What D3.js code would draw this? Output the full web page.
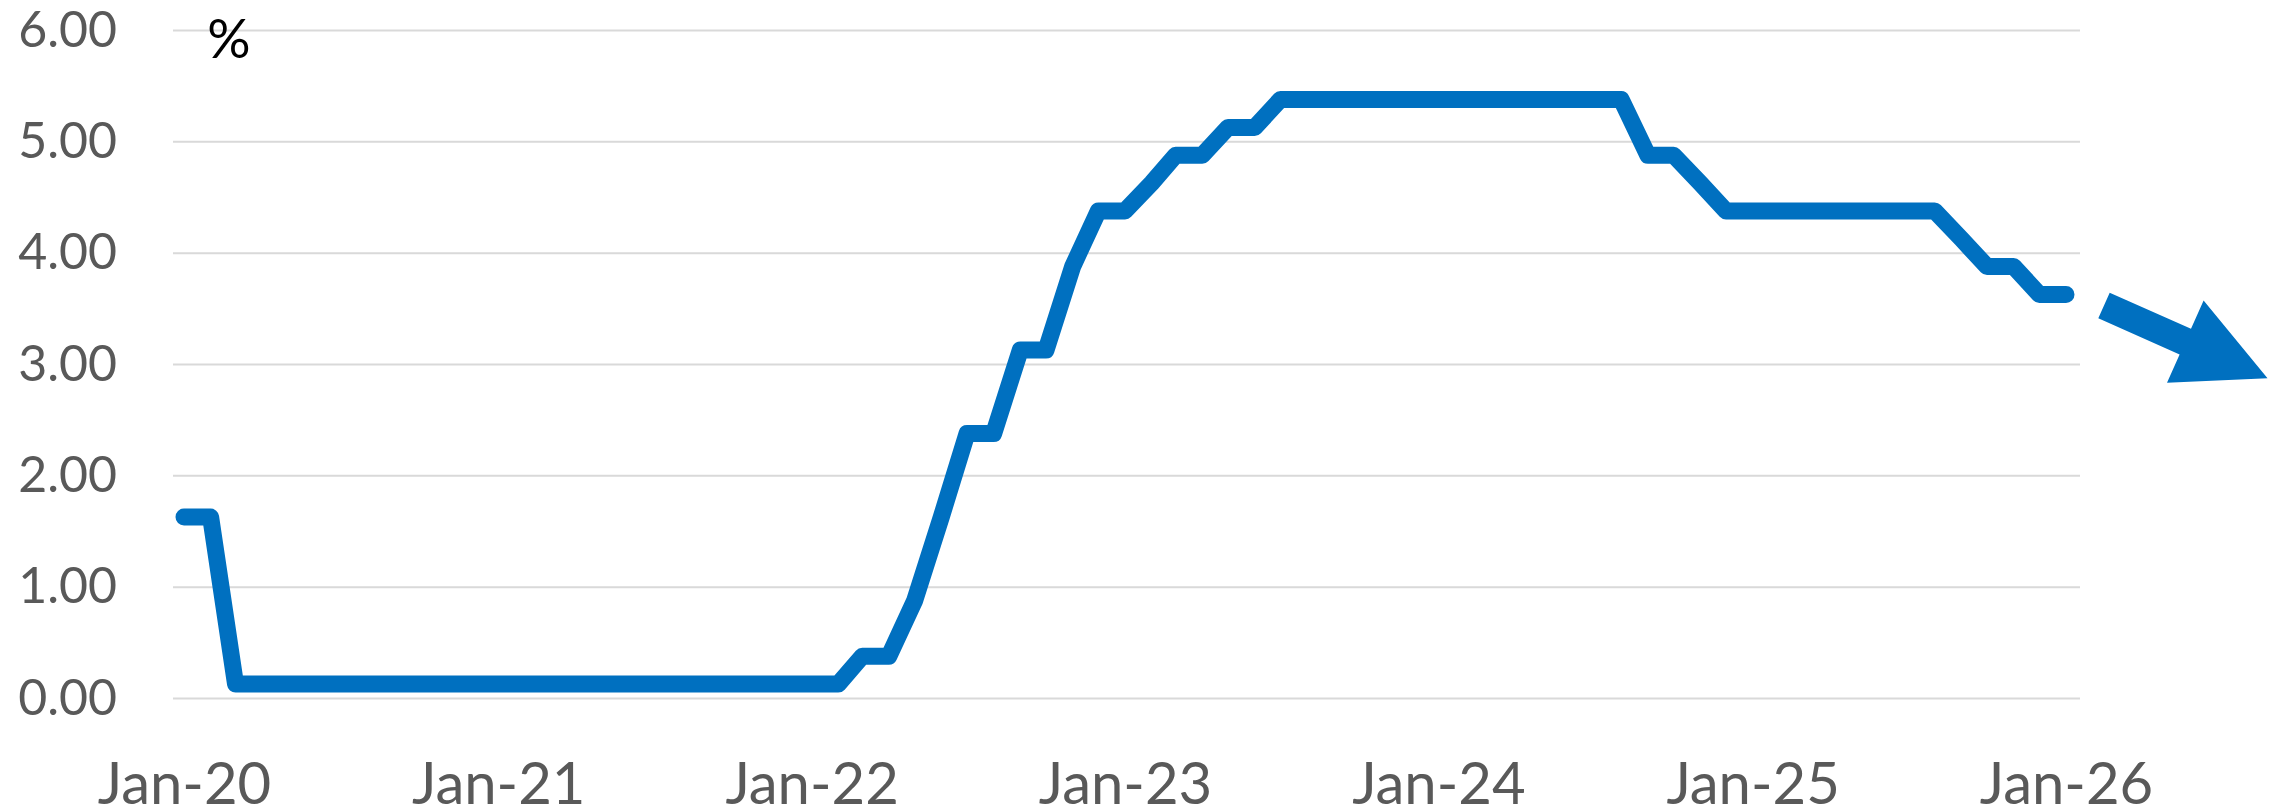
<!DOCTYPE html>
<html>
<head>
<meta charset="utf-8">
<script src="https://cdn.jsdelivr.net/npm/d3@7"></script>
<style>
  body { margin: 0; background: #fff; }
  text { font-family: Lato, "Open Sans", sans-serif; }
</style>
</head>
<body>
<div id="chart"></div>
<script>
// monthly target-rate midpoints, Jan-20 .. Jan-26
const months = [
  "2020-01","2020-02","2020-03","2020-04","2020-05","2020-06","2020-07","2020-08","2020-09","2020-10","2020-11","2020-12",
  "2021-01","2021-02","2021-03","2021-04","2021-05","2021-06","2021-07","2021-08","2021-09","2021-10","2021-11","2021-12",
  "2022-01","2022-02","2022-03","2022-04","2022-05","2022-06","2022-07","2022-08","2022-09","2022-10","2022-11","2022-12",
  "2023-01","2023-02","2023-03","2023-04","2023-05","2023-06","2023-07","2023-08","2023-09","2023-10","2023-11","2023-12",
  "2024-01","2024-02","2024-03","2024-04","2024-05","2024-06","2024-07","2024-08","2024-09","2024-10","2024-11","2024-12",
  "2025-01","2025-02","2025-03","2025-04","2025-05","2025-06","2025-07","2025-08","2025-09","2025-10","2025-11","2025-12",
  "2026-01"
];
const rates = [
  1.625, 1.625, 0.125, 0.125, 0.125, 0.125, 0.125, 0.125, 0.125, 0.125, 0.125, 0.125,
  0.125, 0.125, 0.125, 0.125, 0.125, 0.125, 0.125, 0.125, 0.125, 0.125, 0.125, 0.125,
  0.125, 0.125, 0.375, 0.375, 0.875, 1.625, 2.375, 2.375, 3.125, 3.125, 3.875, 4.375,
  4.375, 4.625, 4.875, 4.875, 5.125, 5.125, 5.375, 5.375, 5.375, 5.375, 5.375, 5.375,
  5.375, 5.375, 5.375, 5.375, 5.375, 5.375, 5.375, 5.375, 4.875, 4.875, 4.625, 4.375,
  4.375, 4.375, 4.375, 4.375, 4.375, 4.375, 4.375, 4.375, 4.125, 3.875, 3.875, 3.625,
  3.625
];
const yTicks = [0, 1, 2, 3, 4, 5, 6];
const xTickYears = [2020, 2021, 2022, 2023, 2024, 2025, 2026];
const unitLabel = "%";

const width = 2280;
const height = 812;

const parseMonth = d3.timeParse("%Y-%m");
const data = months.map((m, i) => ({ date: parseMonth(m), value: rates[i] }));

const svg = d3.select("#chart")
  .append("svg")
  .attr("width", width)
  .attr("height", height);

const x = d3.scaleTime()
  .domain([new Date(2020, 0, 1), new Date(2026, 0, 1)])
  .range([184, 2066]);

const y = d3.scaleLinear()
  .domain([0, 6])
  .range([698, 30]);

// gridlines + y labels
const gridLeft = 173, gridRight = 2080;
const yAxis = svg.append("g")
  .attr("transform", `translate(${gridLeft},0)`)
  .call(d3.axisLeft(y)
    .tickValues(yTicks)
    .tickFormat(d3.format(".2f"))
    .tickSize(-(gridRight - gridLeft))
    .tickPadding(56));
yAxis.select(".domain").remove();
yAxis.selectAll(".tick line")
  .attr("stroke", "#d9d9d9")
  .attr("stroke-width", 2);
yAxis.selectAll(".tick text")
  .attr("fill", "#595959")
  .style("font-size", "50px");

// x labels
const xAxis = svg.append("g")
  .attr("transform", `translate(0,${y(0)})`)
  .call(d3.axisBottom(x)
    .tickValues(xTickYears.map(yr => new Date(yr, 0, 1)))
    .tickFormat(d3.timeFormat("%b-%y"))
    .tickSize(0)
    .tickPadding(65));
xAxis.select(".domain").remove();
xAxis.selectAll(".tick text")
  .attr("fill", "#595959")
  .style("font-size", "58px");

// unit label
svg.append("text")
  .attr("x", 229)
  .attr("y", 58)
  .attr("text-anchor", "middle")
  .attr("fill", "#000")
  .style("font-size", "54px")
  .text(unitLabel);

// rate line
const line = d3.line()
  .x(d => x(d.date))
  .y(d => y(d.value));

svg.append("path")
  .datum(data)
  .attr("d", line)
  .attr("fill", "none")
  .attr("stroke", "#0070c0")
  .attr("stroke-width", 17)
  .attr("stroke-linejoin", "round")
  .attr("stroke-linecap", "round");

// downward arrow after the last point
const last = data[data.length - 1];
const ax = x(last.date) + 38, ay = y(last.value) + 11;
const shaftLen = 89, headLen = 90, shaftHalf = 14, headHalf = 45;
const arrowPts = [
  [0, -shaftHalf], [shaftLen, -shaftHalf], [shaftLen, -headHalf],
  [shaftLen + headLen, 0],
  [shaftLen, headHalf], [shaftLen, shaftHalf], [0, shaftHalf]
];
svg.append("polygon")
  .attr("points", arrowPts.map(p => p.join(",")).join(" "))
  .attr("fill", "#0070c0")
  .attr("transform", `translate(${ax},${ay}) rotate(24)`);
</script>
</body>
</html>
